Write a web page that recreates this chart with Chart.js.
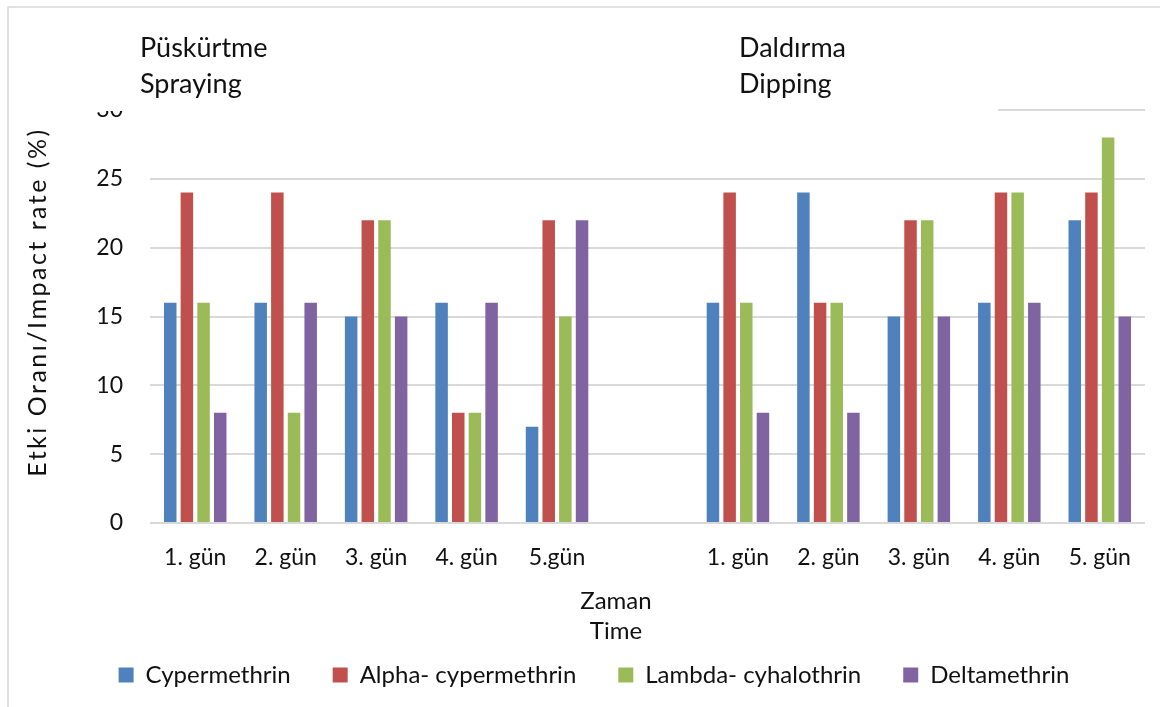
<!DOCTYPE html>
<html>
<head>
<meta charset="utf-8">
<title>Etki Oranı / Impact rate</title>
<script src="https://cdn.jsdelivr.net/npm/chart.js@4.4.1/dist/chart.umd.min.js"></script>
<style>
  html, body { margin: 0; padding: 0; background: #ffffff; }
  #wrap { position: relative; width: 1160px; height: 707px; overflow: hidden; }
  canvas { display: block; }
</style>
</head>
<body>
<div id="wrap"><canvas id="chart" width="1160" height="707"></canvas></div>
<script>
// Days of treatment: spraying block, an empty spacer slot, dipping block
const categories = ['1. gün', '2. gün', '3. gün', '4. gün', '5.gün', '', '1. gün', '2. gün', '3. gün', '4. gün', '5. gün'];

// Impact rate (%) per insecticide
const cypermethrin      = [16, 16, 15, 16,  7, null, 16, 24, 15, 16, 22];
const alphaCypermethrin = [24, 24, 22,  8, 22, null, 24, 16, 22, 24, 24];
const lambdaCyhalothrin = [16,  8, 22,  8, 15, null, 16, 16, 22, 24, 28];
const deltamethrin      = [ 8, 16, 15, 16, 22, null,  8,  8, 15, 16, 15];

const seriesNames  = ['Cypermethrin', 'Alpha- cypermethrin', 'Lambda- cyhalothrin', 'Deltamethrin'];
const seriesColors = ['#4F81BD', '#C0504D', '#9BBB59', '#8064A2'];

const yTicks = [0, 5, 10, 15, 20, 25, 30];
const groupTitles = [['Püskürtme', 'Spraying'], ['Daldırma', 'Dipping']];
const yTitle = 'Etki Oranı/Impact rate (%)';
const xTitle = ['Zaman', 'Time'];

const FONT = 'Lato';
const TEXT = '#111111';
const GRID = '#D9D9D9';

// Outer frame of the chart area (top and left edges)
const framePlugin = {
  id: 'frame',
  beforeDraw(chart) {
    const ctx = chart.ctx;
    ctx.save();
    ctx.fillStyle = '#ffffff';
    ctx.fillRect(0, 0, chart.width, chart.height);
    ctx.strokeStyle = GRID;
    ctx.lineWidth = 1.5;
    ctx.beginPath();
    ctx.moveTo(8, chart.height);
    ctx.lineTo(8, 7);
    ctx.lineTo(chart.width, 7);
    ctx.stroke();
    ctx.restore();
  }
};

// Axis titles and the two method headings (drawn in white boxes over the plot top)
const annotationPlugin = {
  id: 'annotations',
  afterDraw(chart) {
    const ctx = chart.ctx;
    const area = chart.chartArea;
    ctx.save();

    // heading boxes
    ctx.fillStyle = '#ffffff';
    ctx.fillRect(90, 14, 908, area.top + 1 - 14);
    ctx.fillStyle = TEXT;
    ctx.font = '27px ' + FONT;
    ctx.textAlign = 'left';
    ctx.textBaseline = 'alphabetic';
    const headX = [140, 739];
    groupTitles.forEach((lines, i) => {
      ctx.fillText(lines[0], headX[i], 57);
      ctx.fillText(lines[1], headX[i], 93);
    });

    // y axis title
    ctx.save();
    ctx.translate(38, 302);
    ctx.rotate(-Math.PI / 2);
    ctx.font = '25px ' + FONT;
    ctx.letterSpacing = '2.5px';
    ctx.textAlign = 'center';
    ctx.textBaseline = 'middle';
    ctx.fillText(yTitle, 0, 0);
    ctx.restore();

    // x axis title
    ctx.font = '24px ' + FONT;
    ctx.textAlign = 'center';
    ctx.textBaseline = 'alphabetic';
    ctx.fillText(xTitle[0], 616, 609);
    ctx.fillText(xTitle[1], 616, 639);

    ctx.restore();
  }
};

const datasetValues = [cypermethrin, alphaCypermethrin, lambdaCyhalothrin, deltamethrin];

function build() {
  Chart.defaults.font.family = FONT;
  Chart.defaults.color = TEXT;

  new Chart(document.getElementById('chart'), {
    type: 'bar',
    data: {
      labels: categories,
      datasets: datasetValues.map((values, i) => ({
        label: seriesNames[i],
        data: values,
        backgroundColor: seriesColors[i],
        borderWidth: 0,
        categoryPercentage: 0.737,
        barPercentage: 0.75
      }))
    },
    options: {
      responsive: false,
      animation: false,
      devicePixelRatio: 1,
      layout: { padding: { left: 43, right: 15, top: 110, bottom: 10 } },
      plugins: {
        tooltip: { enabled: false },
        title: { display: false },
        legend: {
          position: 'bottom',
          labels: {
            boxWidth: 15,
            boxHeight: 15,
            padding: 42,
            color: TEXT,
            font: { size: 24, family: FONT }
          }
        }
      },
      scales: {
        x: {
          grid: { display: false },
          border: { display: false },
          ticks: {
            autoSkip: false,
            maxRotation: 0,
            minRotation: 0,
            padding: 13,
            color: TEXT,
            font: { size: 23, family: FONT }
          },
          afterFit(scale) { scale.height = 98; }
        },
        y: {
          min: 0,
          max: 30,
          grid: { color: GRID, lineWidth: 2, drawTicks: false },
          border: { display: false },
          afterBuildTicks(scale) { scale.ticks = yTicks.map(v => ({ value: v })); },
          ticks: {
            padding: 27,
            color: TEXT,
            font: { size: 23, family: FONT }
          },
          afterFit(scale) { scale.width = 107; }
        }
      }
    },
    plugins: [framePlugin, annotationPlugin]
  });
}

if (document.fonts && document.fonts.load) {
  Promise.all([document.fonts.load('24px ' + FONT)]).then(build, build);
} else {
  build();
}
</script>
</body>
</html>
